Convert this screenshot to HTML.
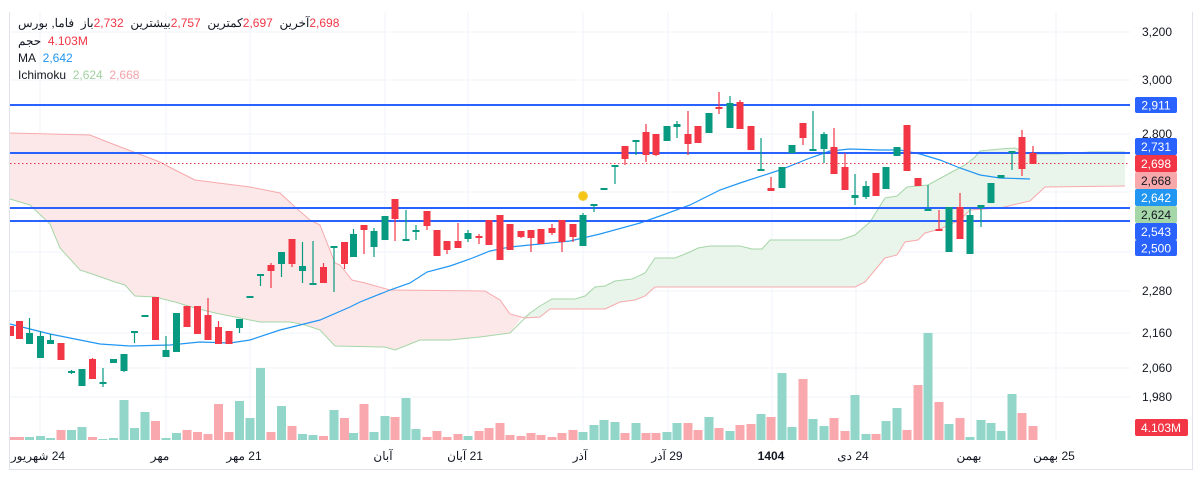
<!DOCTYPE html>
<html><head><meta charset="utf-8">
<style>
html,body{margin:0;padding:0;background:#fff;}
body{width:1203px;height:478px;overflow:hidden;position:relative;font-family:"Liberation Sans","Noto Sans CJK SC",sans-serif;}
svg{position:absolute;left:0;top:0;}
.hdr{position:absolute;left:18px;font-size:12px;color:#131722;white-space:nowrap;display:flex;gap:0;direction:ltr;}
.hdr span{display:inline-block;}
.r{color:#f23645}.b{color:#2196f3}.g{color:#9fd19f}.p{color:#f4a3a8}
</style></head><body>
<svg width="1203" height="478" viewBox="0 0 1203 478" font-family="Liberation Sans, Noto Sans CJK SC, sans-serif" font-size="12">
<g stroke="#f0f3fa" stroke-width="1">
<path d="M10 32H1130M10 80H1130M10 134H1130M10 192H1130M10 252H1130M10 291H1130M10 333H1130M10 368H1130M10 397H1130"/>
<path d="M40 12V441M166 12V441M250 12V441M385 12V441M468 12V441M583 12V441M668 12V441M772 12V441M856 12V441M971 12V441M1056 12V441"/>
</g>
<g stroke="#e0e3eb" stroke-width="1" fill="none">
<path d="M9.5 12V469.5H1192.5V12"/>
</g>
<polygon fill="#fde8e9" points="10,133 90,135 110,143 160,162 175,170 195,180 250,187 280,193 295,207 310,220 320,225 335,263 340,265 352,280 365,283 390,290 485,291 500,300 510,314 522,317 510,333 480,337 450,340 420,340 410,344 395,350 385,347 335,346 320,330 305,325 290,322 260,322 240,318 215,313 195,308 175,302 155,297 135,296 125,285 115,282 95,275 80,270 60,248 50,224 30,205 10,199"/>
<polygon fill="#e9f4ea" points="522,317 530,313 540,306 552,299 575,299 585,296 595,287 605,286 615,281 632,279 645,273 655,258 675,258 690,252 698,248 710,246 740,246 752,249 762,249 770,240 840,240 855,235 870,222 885,198 897,196 907,187 928,185 950,173 965,165 975,157 980,151 1000,149 1015,148 1030,154 1060,154 1090,152 1125,152 1125,186 1045,187 1030,201 1000,208 970,210 960,220 940,229 925,233 918,240 905,242 897,255 885,258 865,282 855,287 655,287 645,296 635,300 620,302 605,309 550,309 540,317 525,318"/>
<polyline fill="none" stroke="#a5d6a7" stroke-width="1" points="10,199 30,205 50,224 60,248 80,270 95,275 115,282 125,285 135,296 155,297 175,302 195,308 215,313 240,318 260,322 290,322 305,325 320,330 335,346 385,347 395,350 410,344 420,340 450,340 480,337 510,333 530,313 540,306 552,299 575,299 585,296 595,287 605,286 615,281 632,279 645,273 655,258 675,258 690,252 698,248 710,246 740,246 752,249 762,249 770,240 840,240 855,235 870,222 885,198 897,196 907,187 928,185 950,173 965,165 975,157 980,151 1000,149 1015,148 1030,154 1060,154 1090,152 1125,152"/>
<polyline fill="none" stroke="#f7a9ac" stroke-width="1" points="10,133 90,135 110,143 160,162 175,170 195,180 250,187 280,193 295,207 310,220 320,225 335,263 340,265 352,280 365,283 390,290 485,291 500,300 510,314 525,318 540,317 550,309 605,309 620,302 635,300 645,296 655,287 855,287 865,282 885,258 897,255 905,242 918,240 925,233 940,229 960,220 970,210 1000,208 1030,201 1045,187 1125,186"/>
<g fill="#92d5c9">
<rect x="25" y="437" width="9" height="3"/><rect x="36" y="436" width="9" height="4"/><rect x="46" y="438" width="9" height="2"/><rect x="67" y="430" width="9" height="10"/><rect x="77.5" y="427" width="9" height="13"/><rect x="98.5" y="439" width="9" height="1"/><rect x="109" y="438" width="9" height="2"/><rect x="119.5" y="400" width="9" height="40"/><rect x="130" y="428" width="9" height="12"/><rect x="140.5" y="412" width="9" height="28"/><rect x="161.5" y="438" width="9" height="2"/><rect x="172" y="433" width="9" height="7"/><rect x="235" y="401" width="9" height="39"/><rect x="245.5" y="418" width="9" height="22"/><rect x="256" y="368" width="9" height="72"/><rect x="277" y="406" width="9" height="34"/><rect x="298" y="434" width="9" height="6"/><rect x="308.5" y="435" width="9" height="5"/><rect x="329.5" y="410" width="9" height="30"/><rect x="349" y="433" width="9" height="7"/><rect x="369.5" y="432" width="9" height="8"/><rect x="380.5" y="416" width="9" height="24"/><rect x="401.5" y="398" width="9" height="42"/><rect x="411.5" y="429" width="9" height="11"/><rect x="463.5" y="436" width="9" height="4"/><rect x="578.5" y="432" width="9" height="8"/><rect x="589.5" y="425" width="9" height="15"/><rect x="599.5" y="420" width="9" height="20"/><rect x="610.5" y="422" width="9" height="18"/><rect x="631.5" y="423" width="9" height="17"/><rect x="662.5" y="432" width="9" height="8"/><rect x="672.5" y="423" width="9" height="17"/><rect x="704.5" y="417" width="9" height="23"/><rect x="725.5" y="431" width="9" height="9"/><rect x="756.5" y="414" width="9" height="26"/><rect x="777.5" y="373" width="9" height="67"/><rect x="787.5" y="427" width="9" height="13"/><rect x="808.5" y="419" width="9" height="21"/><rect x="819.5" y="426" width="9" height="14"/><rect x="850.5" y="395" width="9" height="45"/><rect x="861.5" y="434" width="9" height="6"/><rect x="881.5" y="421" width="9" height="19"/><rect x="892.5" y="408" width="9" height="32"/><rect x="923.5" y="333" width="9" height="107"/><rect x="944.5" y="424" width="9" height="16"/><rect x="965.5" y="437" width="9" height="3"/><rect x="976.5" y="420" width="9" height="20"/><rect x="986.5" y="423" width="9" height="17"/><rect x="996.5" y="431" width="9" height="9"/><rect x="1007.5" y="394" width="9" height="46"/>
</g>
<g fill="#f9a8ae">
<rect x="10" y="437" width="5" height="3"/><rect x="15" y="437" width="9" height="3"/><rect x="56.5" y="430" width="9" height="10"/><rect x="88" y="437" width="9" height="3"/><rect x="151" y="421" width="9" height="19"/><rect x="182.5" y="430" width="9" height="10"/><rect x="193" y="432" width="9" height="8"/><rect x="203.5" y="434" width="9" height="6"/><rect x="214" y="404" width="9" height="36"/><rect x="224.5" y="432" width="9" height="8"/><rect x="266.5" y="432" width="9" height="8"/><rect x="287.5" y="426" width="9" height="14"/><rect x="319" y="436" width="9" height="4"/><rect x="340" y="418" width="9" height="22"/><rect x="359.5" y="404" width="9" height="36"/><rect x="390.5" y="417" width="9" height="23"/><rect x="422.5" y="437" width="9" height="3"/><rect x="432.5" y="431" width="9" height="9"/><rect x="442.5" y="437" width="9" height="3"/><rect x="453.5" y="434" width="9" height="6"/><rect x="474.5" y="431" width="9" height="9"/><rect x="484.5" y="428" width="9" height="12"/><rect x="495.5" y="423" width="9" height="17"/><rect x="505.5" y="435" width="9" height="5"/><rect x="516.5" y="436" width="9" height="4"/><rect x="526.5" y="433" width="9" height="7"/><rect x="536.5" y="435" width="9" height="5"/><rect x="547.5" y="437" width="9" height="3"/><rect x="557.5" y="433" width="9" height="7"/><rect x="568.5" y="430" width="9" height="10"/><rect x="620.5" y="433" width="9" height="7"/><rect x="641.5" y="433" width="9" height="7"/><rect x="651.5" y="433" width="9" height="7"/><rect x="683.5" y="423" width="9" height="17"/><rect x="693.5" y="430" width="9" height="10"/><rect x="714.5" y="428" width="9" height="12"/><rect x="735.5" y="425" width="9" height="15"/><rect x="746.5" y="424" width="9" height="16"/><rect x="766.5" y="417" width="9" height="23"/><rect x="798.5" y="379" width="9" height="61"/><rect x="829.5" y="418" width="9" height="22"/><rect x="840.5" y="431" width="9" height="9"/><rect x="871.5" y="434" width="9" height="6"/><rect x="902.5" y="430" width="9" height="10"/><rect x="913.5" y="385" width="9" height="55"/><rect x="934.5" y="402" width="9" height="38"/><rect x="955.5" y="418" width="9" height="22"/><rect x="1017.5" y="413" width="9" height="27"/><rect x="1028.5" y="426" width="9" height="14"/>
</g>
<polyline fill="none" stroke="#2196f3" stroke-width="1.2" points="10,324 50,334 100,344 130,346 170,345 200,342 230,343 250,340 280,330 320,320 350,307 360,302 390,290 410,283 427,272 450,266 470,259 490,251 510,247 540,244 570,241 600,234 640,223 660,216 690,205 700,200 720,190 740,183 780,170 810,158 830,151 850,149 880,150 900,150 920,154 940,160 960,168 980,175 1000,178 1030,179"/>
<g stroke="#2962ff" stroke-width="2">
<path d="M10 105H1130M10 153H1130M10 208H1130M10 221H1130"/>
</g>
<path d="M10 163.5H1130" stroke="#f23645" stroke-width="1" stroke-dasharray="1.5,2.5"/>
<path fill="none" stroke="#089981" stroke-width="1.2" d="M29.5 318V344 M40.5 331V358 M50.5 334V344 M71.5 370V374 M82 369V386 M103 368V387 M113.5 359V363 M124 354V372 M134.5 331V343 M145 315V317 M166 336V357 M176.5 313V352 M239.5 319V333 M250 296V298 M260.5 274V286 M281.5 252V277 M302.5 242V283 M313 241V285 M334 246V292 M353.5 229V257 M374 228V257 M385 216V240 M406 210V241 M416 225V240 M468 230V242 M583 213V246 M594 204V212 M604 188V190 M615 165V184 M636 140V155 M667 126V141 M677 121V138 M709 113V133 M730 96V128 M761 138V171 M782 167V188 M792 145V153 M813 111V151 M824 132V163 M855 174V205 M866 181V199 M886 167V189 M897 147V156 M928 185V211 M949 207V252 M970 208V254 M981 205V227 M991 183V203 M1001 175V178 M1012 151V170"/>
<g fill="#089981">
<rect x="26" y="333" width="7" height="11"/><rect x="37" y="336" width="7" height="22"/><rect x="47" y="340" width="7" height="4"/><rect x="68" y="371" width="7" height="2"/><rect x="78.5" y="369" width="7" height="17"/><rect x="99.5" y="382" width="7" height="2"/><rect x="110" y="359" width="7" height="4"/><rect x="120.5" y="354" width="7" height="17"/><rect x="131" y="331" width="7" height="2"/><rect x="141.5" y="315" width="7" height="2"/><rect x="162.5" y="350" width="7" height="7"/><rect x="173" y="313" width="7" height="39"/><rect x="236" y="319" width="7" height="9"/><rect x="246.5" y="296" width="7" height="2"/><rect x="257" y="274" width="7" height="2"/><rect x="278" y="252" width="7" height="12"/><rect x="299" y="266" width="7" height="5"/><rect x="309.5" y="283" width="7" height="2"/><rect x="330.5" y="246" width="7" height="2"/><rect x="350" y="234" width="7" height="23"/><rect x="370.5" y="231" width="7" height="16"/><rect x="381.5" y="216" width="7" height="24"/><rect x="402.5" y="239" width="7" height="2"/><rect x="412.5" y="230" width="7" height="2"/><rect x="464.5" y="233" width="7" height="6"/><rect x="579.5" y="215" width="7" height="31"/><rect x="590.5" y="204" width="7" height="2"/><rect x="600.5" y="188" width="7" height="2"/><rect x="611.5" y="165" width="7" height="2"/><rect x="632.5" y="140" width="7" height="2"/><rect x="663.5" y="126" width="7" height="15"/><rect x="673.5" y="124" width="7" height="3"/><rect x="705.5" y="113" width="7" height="20"/><rect x="726.5" y="103" width="7" height="25"/><rect x="757.5" y="169" width="7" height="2"/><rect x="778.5" y="167" width="7" height="21"/><rect x="788.5" y="145" width="7" height="8"/><rect x="809.5" y="149" width="7" height="2"/><rect x="820.5" y="134" width="7" height="15"/><rect x="851.5" y="195" width="7" height="3"/><rect x="862.5" y="186" width="7" height="11"/><rect x="882.5" y="167" width="7" height="22"/><rect x="893.5" y="147" width="7" height="9"/><rect x="924.5" y="209" width="7" height="2"/><rect x="945.5" y="207" width="7" height="45"/><rect x="966.5" y="215" width="7" height="39"/><rect x="977.5" y="205" width="7" height="3"/><rect x="987.5" y="183" width="7" height="20"/><rect x="997.5" y="175" width="7" height="3"/><rect x="1008.5" y="151" width="7" height="2"/>
</g>
<path fill="none" stroke="#f23645" stroke-width="1.2" d="M19.5 321V339 M61 343V360 M92.5 358V379 M155.5 297V340 M187 306V327 M197.5 306V334 M208 298V340 M218.5 321V344 M229 331V344 M271 263V288 M292 239V267 M323.5 263V283 M344.5 242V269 M364 225V254 M395 199V241 M427 211V230 M437 230V256 M447 241V254 M458 223V248 M479 234V244 M489 220V245 M500 215V260 M510 224V250 M521 231V238 M531 230V252 M541 229V244 M552 224V235 M562 220V252 M573 224V242 M625 146V165 M646 124V162 M656 134V156 M688 111V155 M698 126V143 M719 92V114 M740 100V129 M751 126V150 M771 177V191 M803 123V145 M834 128V174 M845 153V190 M876 173V196 M907 125V171 M918 178V186 M939 210V231 M960 193V239 M1022 130V176 M1033 146V164"/>
<g fill="#f23645">
<rect x="10" y="326" width="4" height="10"/><rect x="16" y="321" width="7" height="18"/><rect x="57.5" y="343" width="7" height="17"/><rect x="89" y="359" width="7" height="20"/><rect x="152" y="297" width="7" height="43"/><rect x="183.5" y="306" width="7" height="21"/><rect x="194" y="306" width="7" height="28"/><rect x="204.5" y="315" width="7" height="25"/><rect x="215" y="327" width="7" height="17"/><rect x="225.5" y="331" width="7" height="13"/><rect x="267.5" y="265" width="7" height="6"/><rect x="288.5" y="239" width="7" height="25"/><rect x="320" y="267" width="7" height="16"/><rect x="341" y="242" width="7" height="22"/><rect x="360.5" y="225" width="7" height="5"/><rect x="391.5" y="199" width="7" height="20"/><rect x="423.5" y="211" width="7" height="15"/><rect x="433.5" y="230" width="7" height="26"/><rect x="443.5" y="241" width="7" height="9"/><rect x="454.5" y="241" width="7" height="7"/><rect x="475.5" y="236" width="7" height="2"/><rect x="485.5" y="220" width="7" height="25"/><rect x="496.5" y="215" width="7" height="45"/><rect x="506.5" y="224" width="7" height="26"/><rect x="517.5" y="231" width="7" height="6"/><rect x="527.5" y="230" width="7" height="8"/><rect x="537.5" y="229" width="7" height="15"/><rect x="548.5" y="228" width="7" height="5"/><rect x="558.5" y="220" width="7" height="22"/><rect x="569.5" y="224" width="7" height="13"/><rect x="621.5" y="146" width="7" height="13"/><rect x="642.5" y="132" width="7" height="23"/><rect x="652.5" y="134" width="7" height="21"/><rect x="684.5" y="134" width="7" height="10"/><rect x="694.5" y="126" width="7" height="17"/><rect x="715.5" y="107" width="7" height="2"/><rect x="736.5" y="102" width="7" height="27"/><rect x="747.5" y="126" width="7" height="24"/><rect x="767.5" y="188" width="7" height="3"/><rect x="799.5" y="123" width="7" height="15"/><rect x="830.5" y="147" width="7" height="27"/><rect x="841.5" y="167" width="7" height="23"/><rect x="872.5" y="173" width="7" height="23"/><rect x="903.5" y="125" width="7" height="46"/><rect x="914.5" y="178" width="7" height="8"/><rect x="935.5" y="229" width="7" height="2"/><rect x="956.5" y="207" width="7" height="32"/><rect x="1018.5" y="137" width="7" height="32"/><rect x="1029.5" y="153" width="7" height="11"/>
</g>
<circle cx="583" cy="196" r="4.5" fill="#f5c518" stroke="#f0d050" stroke-width="1"/>
<g fill="#131722" text-anchor="end">
<text x="1172" y="36">3,200</text><text x="1172" y="84">3,000</text><text x="1172" y="138">2,800</text><text x="1172" y="295">2,280</text><text x="1172" y="337">2,160</text><text x="1172" y="372">2,060</text><text x="1172" y="401">1,980</text>
</g>
<g text-anchor="middle">
<rect x="1135" y="97" width="42" height="16" rx="2" fill="#2962ff"/><text x="1156" y="109.5" fill="#fff">2,911</text>
<rect x="1135" y="138" width="42" height="17" rx="2" fill="#2962ff"/><text x="1156" y="151" fill="#fff">2,731</text>
<rect x="1135" y="155" width="42" height="17" rx="2" fill="#f23645"/><text x="1156" y="168" fill="#fff">2,698</text>
<rect x="1135" y="172" width="42" height="17" rx="2" fill="#f7a8ab"/><text x="1156" y="185" fill="#131722">2,668</text>
<rect x="1135" y="189" width="42" height="17" rx="2" fill="#2196f3"/><text x="1156" y="202" fill="#fff">2,642</text>
<rect x="1135" y="206" width="42" height="17" rx="2" fill="#a5d6a7"/><text x="1156" y="219" fill="#131722">2,624</text>
<rect x="1135" y="223" width="42" height="17" rx="2" fill="#2962ff"/><text x="1156" y="236" fill="#fff">2,543</text>
<rect x="1135" y="240" width="42" height="16" rx="2" fill="#2962ff"/><text x="1156" y="252.5" fill="#fff">2,500</text>
<rect x="1135" y="419" width="53" height="17" rx="2" fill="#f23645"/><text x="1161" y="432" fill="#fff">4.103M</text>
</g>
<g fill="#131722" text-anchor="middle">
<text x="38" y="460" direction="rtl" unicode-bidi="embed">24 شهریور</text><text x="160" y="460">مهر</text><text x="244" y="460" direction="rtl" unicode-bidi="embed">21 مهر</text><text x="383" y="460">آبان</text><text x="465" y="460" direction="rtl" unicode-bidi="embed">21 آبان</text><text x="580" y="460">آذر</text><text x="667" y="460" direction="rtl" unicode-bidi="embed">29 آذر</text><text x="771" y="460" font-weight="bold">1404</text><text x="853" y="460" direction="rtl" unicode-bidi="embed">24 دی</text><text x="969" y="460">بهمن</text><text x="1054" y="460" direction="rtl" unicode-bidi="embed">25 بهمن</text>
</g>
</svg>
<div class="hdr" style="top:16px;"><span dir="rtl">فاما, بورس</span><span>&nbsp;&nbsp;باز</span><span class="r">2,732</span><span>&nbsp;&nbsp;بیشترین</span><span class="r">2,757</span><span>&nbsp;&nbsp;کمترین</span><span class="r">2,697</span><span>&nbsp;&nbsp;آخرین</span><span class="r">2,698</span></div>
<div class="hdr" style="top:34px;"><span>حجم</span><span class="r">&nbsp;&nbsp;4.103M</span></div>
<div class="hdr" style="top:51px;"><span>MA</span><span class="b">&nbsp;&nbsp;2,642</span></div>
<div class="hdr" style="top:68px;"><span>Ichimoku</span><span class="g">&nbsp;&nbsp;2,624</span><span class="p">&nbsp;&nbsp;2,668</span></div>
</body></html>
